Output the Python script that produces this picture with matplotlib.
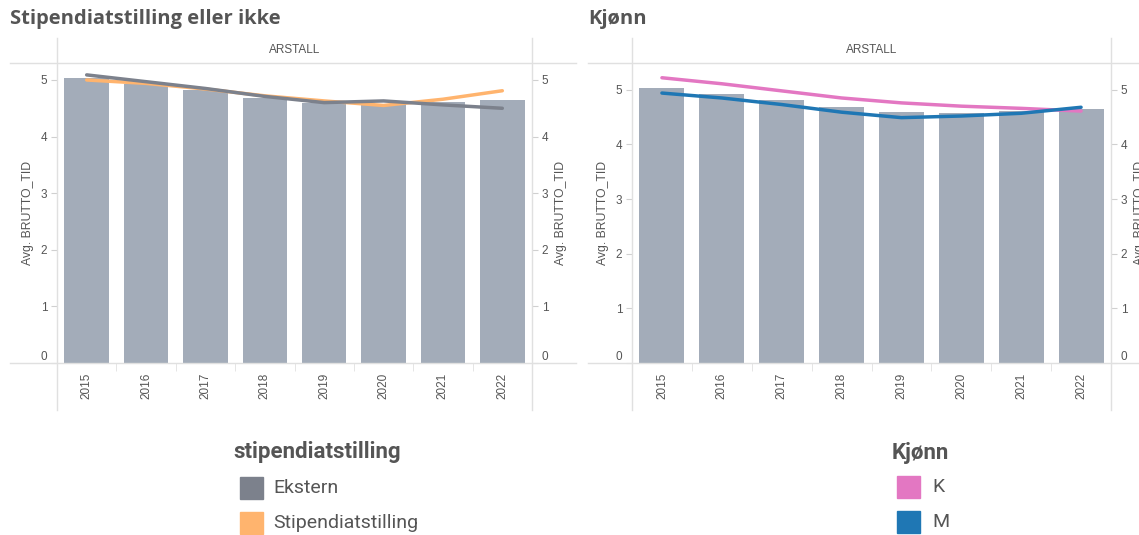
import matplotlib.pyplot as plt
from matplotlib.lines import Line2D
from matplotlib.patches import Rectangle
import numpy as np

# data
years = ["2015", "2016", "2017", "2018", "2019", "2020", "2021", "2022"]
avg_all = [5.04, 4.93, 4.82, 4.69, 4.60, 4.58, 4.61, 4.65]
ekstern = [5.09, 4.97, 4.85, 4.71, 4.60, 4.63, 4.56, 4.50]
stipendiat = [5.00, 4.94, 4.84, 4.72, 4.63, 4.55, 4.66, 4.81]
kvinne = [5.22, 5.11, 4.98, 4.85, 4.76, 4.70, 4.66, 4.61]
mann = [4.94, 4.85, 4.73, 4.59, 4.49, 4.52, 4.57, 4.68]

BAR = "#a3acb9"
GRAY = "#7c818c"
ORANGE = "#ffb46e"
PINK = "#e377c2"
BLUE = "#1f77b4"
TXT = "#555555"
RULE = "#e0e0e0"

W, H = 1139, 535
fig = plt.figure(figsize=(W / 100, H / 100), dpi=100)


def fx(px):
    return px / W


def fy(py):
    return 1 - py / H


def fig_line(x0, y0, x1, y1):
    fig.add_artist(Line2D([fx(x0), fx(x1)], [fy(y0), fy(y1)], color=RULE, lw=1))


def panel(x0, x1, ymax, series):
    ax = fig.add_axes([fx(x0), fy(363), fx(x1) - fx(x0), fy(63) - fy(363)])
    x = np.arange(len(years))
    ax.bar(x, avg_all, width=0.75, color=BAR, zorder=1)
    for vals, col in series:
        ax.plot(x, vals, color=col, lw=2.5, solid_capstyle="round", zorder=3)
    ax.set_xlim(-0.5, len(years) - 0.5)
    ax.set_ylim(0, ymax)
    for s in ax.spines.values():
        s.set_visible(False)
    ax.set_yticks(range(6))
    ax.tick_params(axis="y", length=4, color="#d0d0d0", labelsize=8.5,
                   labelcolor=TXT, pad=3)
    ax.set_xticks(x)
    ax.set_xticklabels(years, rotation=90, fontsize=8.5, color=TXT)
    ax.set_xticks(x[:-1] + 0.5, minor=True)
    ax.tick_params(axis="x", which="major", length=0, pad=7)
    ax.tick_params(axis="x", which="minor", length=6, color=RULE)
    ax.set_ylabel("Avg. BRUTTO_TID", fontsize=8.8, color=TXT, labelpad=5)
    ax.get_yticklabels()[0].set_va("bottom")

    ax2 = ax.twinx()
    ax2.set_ylim(0, ymax)
    for s in ax2.spines.values():
        s.set_visible(False)
    ax2.set_yticks(range(6))
    ax2.tick_params(axis="y", length=4, color="#d0d0d0", labelsize=8.5,
                    labelcolor=TXT, pad=3)
    ax2.set_ylabel("Avg. BRUTTO_TID", fontsize=8.8, color=TXT, labelpad=5)
    ax2.get_yticklabels()[0].set_va("bottom")

    fig.text(fx((x0 + x1) / 2), fy(50), "ARSTALL", ha="center", va="center",
             fontsize=8.5, color=TXT)
    return ax


plt.rcParams["font.family"] = ["Liberation Sans", "DejaVu Sans"]

panel(57, 532, 5.30, [(stipendiat, ORANGE), (ekstern, GRAY)])
panel(632, 1111, 5.49, [(kvinne, PINK), (mann, BLUE)])

# header / pane rules
fig_line(10, 63, 576, 63)
fig_line(10, 363, 576, 363)
fig_line(57, 38, 57, 410)
fig_line(532, 38, 532, 410)
fig_line(588, 63, 1139, 63)
fig_line(588, 363, 1139, 363)
fig_line(632, 38, 632, 410)
fig_line(1111, 38, 1111, 410)

# titles
fig.text(fx(10), fy(19), "Stipendiatstilling eller ikke", ha="left", va="center",
         fontsize=14.5, fontweight="bold", color=TXT, family="Open Sans")
fig.text(fx(588), fy(19), "Kjønn", ha="left", va="center",
         fontsize=14.5, fontweight="bold", color=TXT, family="Open Sans")

# legends
def legend(x_title, y_title, title, x_box, x_text, items):
    fig.text(fx(x_title), fy(y_title), title, ha="left", va="center",
             fontsize=16, fontweight="bold", color=TXT, family="Roboto")
    for (label, col, yc) in items:
        fig.add_artist(Rectangle((fx(x_box), fy(yc + 11)), fx(23), 22 / H,
                                 color=col, transform=fig.transFigure))
        fig.text(fx(x_text), fy(yc), label, ha="left", va="center",
                 fontsize=14, color=TXT, family="Roboto")


legend(233, 452, "stipendiatstilling", 240, 273,
       [("Ekstern", GRAY, 488), ("Stipendiatstilling", ORANGE, 523)])
legend(892, 453, "Kjønn", 897, 932,
       [("K", PINK, 487), ("M", BLUE, 522)])

fig.savefig("out.png", dpi=100)
